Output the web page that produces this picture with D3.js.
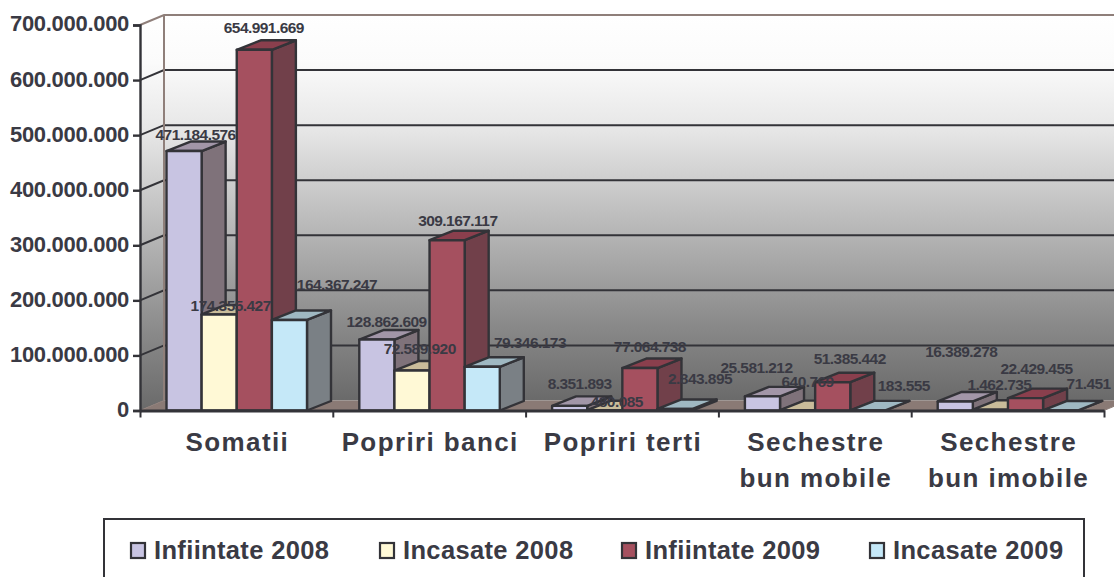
<!DOCTYPE html>
<html><head><meta charset="utf-8">
<script src="https://cdn.jsdelivr.net/npm/d3@7"></script>
<style>html,body{margin:0;padding:0;background:#fff;overflow:hidden}svg{display:block}text{font-family:"Liberation Sans",Arial,sans-serif;font-weight:bold;fill:#3a3a44}</style>
</head><body><svg id="c" width="1114" height="577"></svg>
<script>
const categories=[["Somatii"],["Popriri banci"],["Popriri terti"],["Sechestre","bun mobile"],["Sechestre","bun imobile"]];
const seriesNames=["Infiintate 2008","Incasate 2008","Infiintate 2009","Incasate 2009"];
const infiintate2008=[471184576,128862609,8351893,25581212,16389278];
const incasate2008=[174355427,72589920,480085,640769,1462735];
const infiintate2009=[654991669,309167117,77064738,51385442,22429455];
const incasate2009=[164367247,79346173,2843895,183555,71451];
const yTicks=[0,100000000,200000000,300000000,400000000,500000000,600000000,700000000];
// layout only: label offsets [dx,dy] from the top-centre of each bar, per series
const labelOffsets=[
 [[12.5,-16],[10.7,-17.5],[11,-22],[-5,-29],[7,-50]],
 [[12.5,-9.4],[8.7,-21.5],[13,-9],[11,-29],[10,-25]],
 [[10.5,-22.6],[11.7,-20],[11,-21],[18,-24],[12,-30]],
 [[48.5,-35],[48.7,-24],[26,-30],[37,-25],[29,-27]]];
const styles=[
 {front:"#c8c4e2",top:"#a296a8",side:"#7f727a"},
 {front:"#fff9d6",top:"#c9bc9a",side:"#85806c"},
 {front:"#a5505f",top:"#8a3f4d",side:"#71404a"},
 {front:"#c5e8f8",top:"#9fb8c2",side:"#7a8085"}];
const values=[infiintate2008,incasate2008,infiintate2009,incasate2009];
const ink="#333338",wallEdge="#8f7f7a",dX=24,dY=-10,barDX=24,barDY=-9.5;
const svg=d3.select("#c");
const y=d3.scaleLinear().domain([0,700000000]).range([410.5,25]);
const x0=d3.scaleBand().domain(d3.range(categories.length)).range([140,1104]);
const x1=d3.scaleBand().domain(d3.range(seriesNames.length)).range([26.5,167]);
const fmt=d3.formatLocale({decimal:",",thousands:".",grouping:[3],currency:["",""]}).format(",d");
const defs=svg.append("defs");
const g=defs.append("linearGradient").attr("id","wall").attr("x1",0).attr("y1",0).attr("x2",0).attr("y2",1);
[[0,"#ffffff"],[.12,"#fbfbfb"],[.3,"#e6e6e6"],[.55,"#b8b8b8"],[.8,"#8a8a8a"],[1,"#6a6a6a"]].forEach(s=>g.append("stop").attr("offset",s[0]).attr("stop-color",s[1]));
const poly=pts=>pts.map(p=>p.join(",")).join(" ");
const L=x0.range()[0],R=x0.range()[1],B=y(0),T=y(700000000);
// walls
svg.append("polygon").attr("points",poly([[L,T],[L+dX,T+dY],[L+dX,B+dY],[L,B]])).attr("fill","url(#wall)");
svg.append("rect").attr("x",L+dX).attr("y",T+dY).attr("width",R-L).attr("height",B-T).attr("fill","url(#wall)");
svg.append("polygon").attr("points",poly([[L,B],[L+dX,B+dY],[R+dX,B+dY],[R,B]])).attr("fill","#8a7a75");
// gridlines
svg.append("g").selectAll("polyline").data(yTicks.slice(1,-1)).join("polyline")
 .attr("points",d=>poly([[L,y(d)],[L+dX,y(d)+dY],[R+dX,y(d)+dY]])).attr("fill","none").attr("stroke",ink).attr("stroke-width",2);
svg.append("polyline").attr("points",poly([[L,T],[L+dX,T+dY],[R+dX,T+dY]])).attr("fill","none").attr("stroke",wallEdge).attr("stroke-width",2);
svg.append("line").attr("x1",L+dX).attr("x2",L+dX).attr("y1",T+dY).attr("y2",B+dY).attr("stroke",wallEdge).attr("stroke-width",2);
svg.append("line").attr("x1",L).attr("x2",L+dX).attr("y1",B).attr("y2",B+dY).attr("stroke",wallEdge).attr("stroke-width",1);
svg.append("line").attr("x1",R).attr("x2",R+dX).attr("y1",B).attr("y2",B+dY).attr("stroke",wallEdge).attr("stroke-width",1);
// bars, painter's order
const barW=x1.bandwidth();
const bars=svg.append("g").attr("stroke",ink).attr("stroke-width",2.4).attr("stroke-linejoin","round");
categories.forEach((c,gi)=>{values.forEach((vals,si)=>{
 const xa=x0(gi)+x1(si),xb=xa+barW,yt=y(vals[gi]),st=styles[si];
 bars.append("polygon").attr("fill",st.side).attr("points",poly([[xb,yt],[xb+barDX,yt+barDY],[xb+barDX,B+barDY],[xb,B]]));
 bars.append("polygon").attr("fill",st.top).attr("points",poly([[xa,yt],[xa+barDX,yt+barDY],[xb+barDX,yt+barDY],[xb,yt]]));
 bars.append("rect").attr("fill",st.front).attr("x",xa).attr("y",yt).attr("width",barW).attr("height",B-yt);
});});
// axes
const ay=svg.append("g").attr("transform",`translate(${L},0)`).call(d3.axisLeft(y).tickValues(yTicks).tickFormat(fmt).tickSize(7).tickPadding(4));
ay.selectAll("path,line").attr("stroke",ink).attr("stroke-width",2.4);
ay.selectAll("text").attr("font-size",22).attr("letter-spacing",-0.3).attr("dy","0.27em").style("font-family",'"Liberation Sans",Arial,sans-serif').style("font-weight","bold").style("fill","#3a3a44");
const ax=svg.append("g").attr("transform",`translate(0,${B})`).call(d3.axisBottom(d3.scaleLinear().domain([0,categories.length]).range([L,R])).ticks(categories.length).tickFormat("").tickSize(7).tickSizeOuter(0));
ax.selectAll("path").attr("stroke",ink).attr("stroke-width",2.8);
ax.selectAll("line").attr("stroke",ink).attr("stroke-width",2);
// category labels
categories.forEach((lines,i)=>{lines.forEach((t,k)=>{
 svg.append("text").attr("x",x0(i)+x0.bandwidth()/2+1).attr("y",451+k*36).attr("text-anchor","middle").attr("font-size",26).attr("letter-spacing",1.4).text(t);
});});
// data labels
values.forEach((vals,si)=>vals.forEach((v,gi)=>{
 const o=labelOffsets[si][gi];
 svg.append("text").attr("x",x0(gi)+x1(si)+barW/2+o[0]-1).attr("y",y(v)+o[1]).attr("dy",".35em").attr("text-anchor","middle").attr("font-size",15.5).attr("letter-spacing",-0.55).text(fmt(v));
}));
// legend
svg.append("rect").attr("x",104).attr("y",519).attr("width",980).attr("height",80).attr("fill","#fff").attr("stroke",ink).attr("stroke-width",2);
const legendX=d3.scaleOrdinal().domain(seriesNames).range([131,380,622,870]);
seriesNames.forEach((n,i)=>{
 svg.append("rect").attr("x",legendX(n)).attr("y",543).attr("width",14).attr("height",15).attr("fill",styles[i].front).attr("stroke",ink).attr("stroke-width",2.2);
 svg.append("text").attr("x",legendX(n)+23).attr("y",559).attr("font-size",25.5).attr("letter-spacing",0.35).text(n);
});
</script></body></html>
